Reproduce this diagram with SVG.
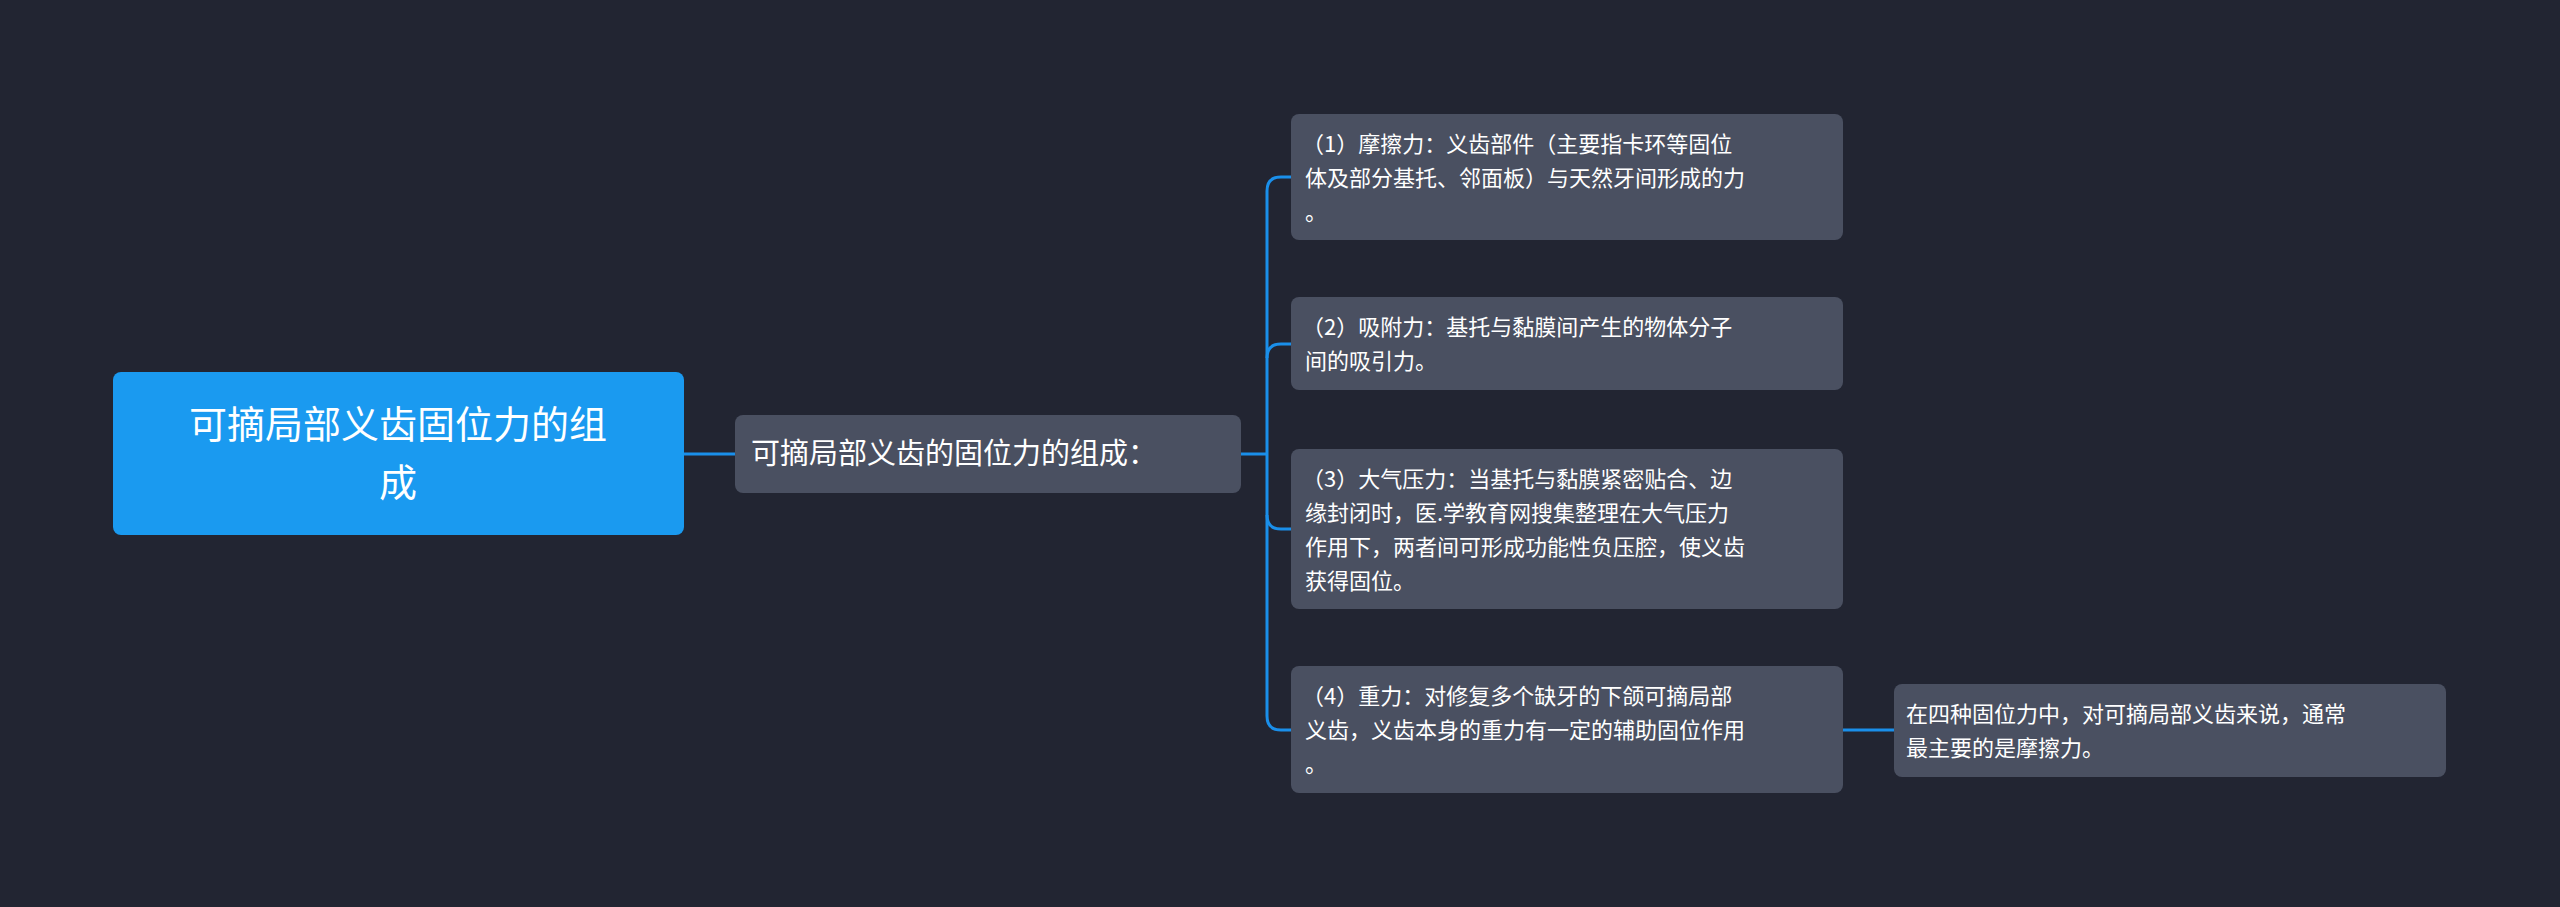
<svg xmlns="http://www.w3.org/2000/svg" width="2560" height="907" viewBox="0 0 2560 907">
<style>
text{font-family:"Noto Sans CJK SC","Noto Sans",sans-serif;fill:#ffffff}
.leaf rect{fill:#4a5061}
.leaf text{font-size:22px}
.c{fill:none;stroke:#1a8fea;stroke-width:3}
</style>
<rect width="2560" height="907" fill="#222532"/>
<g id="connectors">
<path class="c" d="M684 454H735"/>
<path class="c" d="M1241 454H1267"/>
<path class="c" d="M1291 177H1281Q1267 177 1267 191V716Q1267 730 1281 730H1291"/>
<path class="c" d="M1267 358Q1267 344 1281 344H1291"/>
<path class="c" d="M1267 515Q1267 529 1281 529H1291"/>
<path class="c" d="M1843 730H1894"/>
</g>
<g id="root"><rect x="113" y="372" width="571" height="163" rx="8" fill="#1a9af0"/>
<text x="398" y="438" font-size="38" text-anchor="middle">可摘局部义齿固位力的组</text>
<text x="398" y="496" font-size="38" text-anchor="middle">成</text></g>
<g id="n2" class="leaf"><rect x="735" y="415" width="506" height="78" rx="8"/>
<text x="751" y="464" style="font-size:29px">可摘局部义齿的固位力的组成：</text></g>
<g id="l1" class="leaf"><rect x="1291" y="114" width="552" height="126" rx="8"/>
<text x="1302" y="152">（1）摩擦力：义齿部件（主要指卡环等固位</text>
<text x="1305" y="186">体及部分基托、邻面板）与天然牙间形成的力</text>
<text x="1305" y="220">。</text></g>
<g id="l2" class="leaf"><rect x="1291" y="297" width="552" height="93" rx="8"/>
<text x="1302" y="335">（2）吸附力：基托与黏膜间产生的物体分子</text>
<text x="1305" y="369">间的吸引力。</text></g>
<g id="l3" class="leaf"><rect x="1291" y="449" width="552" height="160" rx="8"/>
<text x="1302" y="487">（3）大气压力：当基托与黏膜紧密贴合、边</text>
<text x="1305" y="521">缘封闭时，医.学教育网搜集整理在大气压力</text>
<text x="1305" y="555">作用下，两者间可形成功能性负压腔，使义齿</text>
<text x="1305" y="589">获得固位。</text></g>
<g id="l4" class="leaf"><rect x="1291" y="666" width="552" height="127" rx="8"/>
<text x="1302" y="704">（4）重力：对修复多个缺牙的下颌可摘局部</text>
<text x="1305" y="738">义齿，义齿本身的重力有一定的辅助固位作用</text>
<text x="1305" y="772">。</text></g>
<g id="l5" class="leaf"><rect x="1894" y="684" width="552" height="93" rx="8"/>
<text x="1906" y="722">在四种固位力中，对可摘局部义齿来说，通常</text>
<text x="1906" y="756">最主要的是摩擦力。</text></g>
</svg>
